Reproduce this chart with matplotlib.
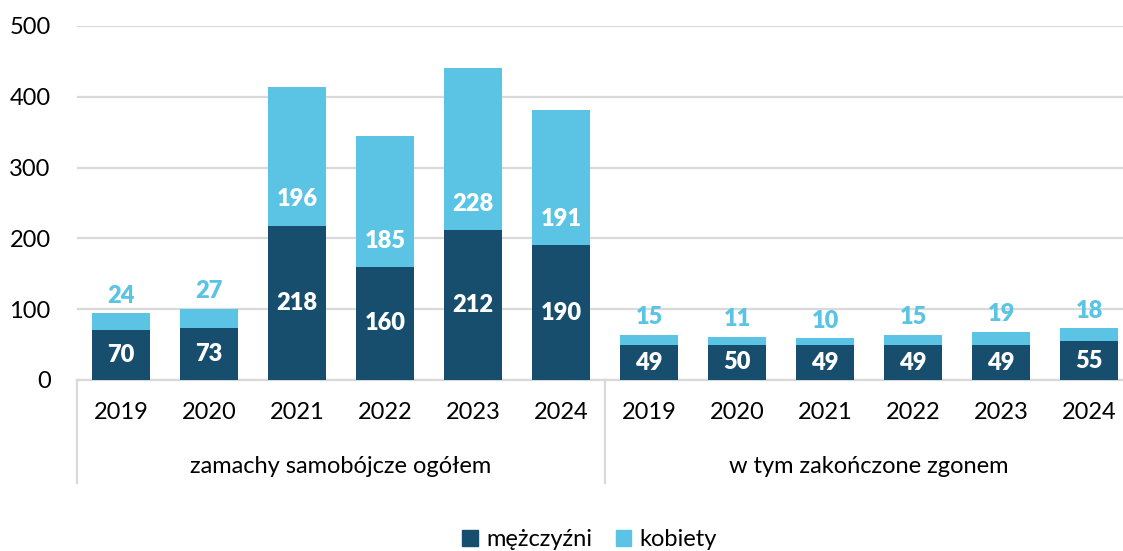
import numpy as np
import matplotlib.pyplot as plt
from matplotlib.patches import Patch
import matplotlib.transforms as mtransforms

plt.rcParams['font.family'] = ['Lato', 'DejaVu Sans']

years = ['2019', '2020', '2021', '2022', '2023', '2024']
groups = ['zamachy samobójcze ogółem', 'w tym zakończone zgonem']
men = [70, 73, 218, 160, 212, 190, 49, 50, 49, 49, 49, 55]
women = [24, 27, 196, 185, 228, 191, 15, 11, 10, 15, 19, 18]
# labels of the female part that sit inside the bar (others go above)
women_inside = [False, False, True, True, True, True,
                False, False, False, False, False, False]

dark = '#174e6e'
light = '#5bc4e5'
grid_c = '#d9d9d9'
fs = 17

x = np.arange(len(men))

fig = plt.figure(figsize=(11.23, 5.51), dpi=100)
ax = fig.add_axes([77 / 1123, 1 - 380 / 551, 1056 / 1123, 354 / 551])

ax.bar(x, men, width=0.67, color=dark, zorder=3)
ax.bar(x, women, bottom=men, width=0.67, color=light, zorder=3)

ax.set_ylim(0, 500)
ax.set_xlim(-0.5, 11.5)
ax.set_yticks([0, 100, 200, 300, 400, 500])
ax.yaxis.grid(True, color=grid_c, linewidth=1.6, zorder=0)
ax.tick_params(axis='y', length=0, labelsize=fs, pad=19)
ax.set_xticks([])
for s in ['top', 'right', 'left']:
    ax.spines[s].set_visible(False)
ax.spines['bottom'].set_color(grid_c)
ax.spines['bottom'].set_linewidth(1.6)

for i in range(len(men)):
    ax.text(x[i], men[i] / 2, str(men[i]), ha='center', va='center',
            color='white', fontsize=fs, fontweight='heavy', zorder=4)
    if women_inside[i]:
        ax.text(x[i], men[i] + 37, str(women[i]), ha='center', va='center',
                color='white', fontsize=fs, fontweight='heavy', zorder=4)
    else:
        ax.text(x[i], men[i] + women[i] + 25, str(women[i]), ha='center',
                va='center', color=light, fontsize=fs, fontweight='heavy',
                zorder=4)

# category axis below the plot
trans = mtransforms.blended_transform_factory(ax.transData, ax.transAxes)
for i, yr in enumerate(years * 2):
    ax.text(x[i], -0.092, yr, transform=trans, ha='center', va='center',
            fontsize=fs)
for g, name in enumerate(groups):
    ax.text(2.5 + 6 * g, -0.245, name, transform=trans, ha='center',
            va='center', fontsize=fs)
for xs in [-0.5, 5.5]:
    ax.plot([xs, xs], [0, -0.291], transform=trans, color=grid_c,
            linewidth=1.6, clip_on=False)

handles = [Patch(color=dark, label='mężczyźni'),
           Patch(color=light, label='kobiety')]
fig.legend(handles=handles, loc='center', bbox_to_anchor=(0.525, 0.02),
           ncol=2, frameon=False, fontsize=fs, handlelength=0.65,
           handleheight=0.65, handletextpad=0.35, columnspacing=1.0)

fig.savefig('out.png', dpi=100)
